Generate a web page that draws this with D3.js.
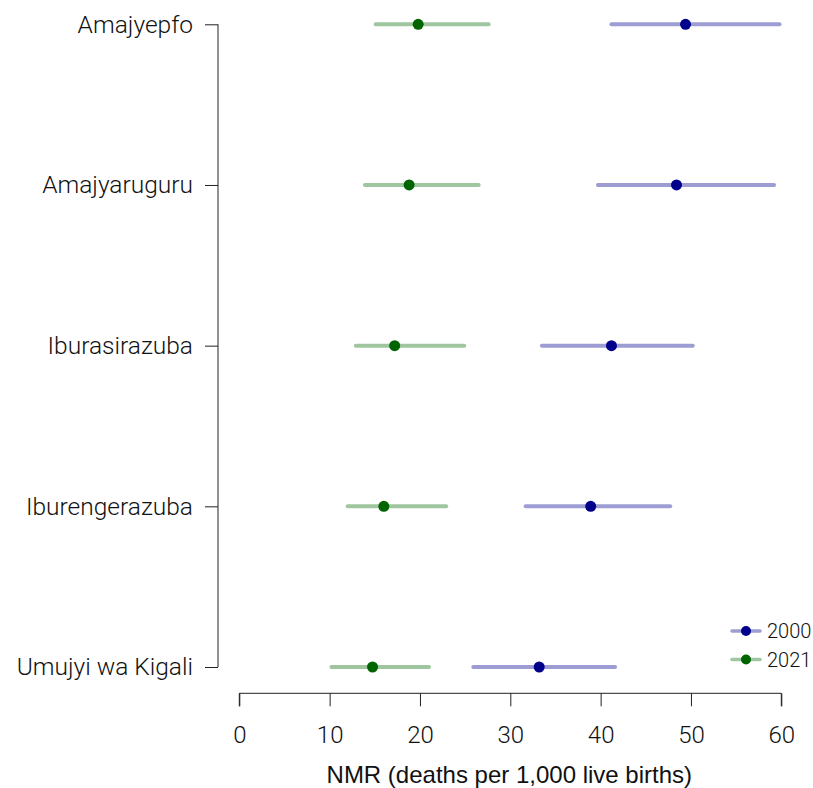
<!DOCTYPE html>
<html><head><meta charset="utf-8">
<script src="https://cdn.jsdelivr.net/npm/d3@7"></script>
<style>body{margin:0;background:#fff}</style>
</head><body>
<svg id="chart" width="813" height="788"></svg>
<script>
const regions = ["Amajyepfo","Amajyaruguru","Iburasirazuba","Iburengerazuba","Umujyi wa Kigali"];
const nmr2000 = [49.4, 48.4, 41.2, 38.9, 33.2];
const low2000 = [41.2, 39.7, 33.5, 31.7, 25.9];
const high2000 = [59.8, 59.2, 50.2, 47.7, 41.6];
const nmr2021 = [19.8, 18.8, 17.2, 16.0, 14.75];
const low2021 = [15.1, 13.9, 12.9, 12.0, 10.2];
const high2021 = [27.6, 26.5, 24.9, 22.9, 21.0];
const xTicks = [0,10,20,30,40,50,60];
const seriesNames = ["2000","2021"];

const svg = d3.select("#chart");
const x = d3.scaleLinear().domain([0,60]).range([239.3,781.3]);
const y = d3.scalePoint().domain(regions).range([24.3,667]);

const lightFont = "Roboto, 'Liberation Sans', sans-serif";
const series = [
  {name:"2000", mid:nmr2000, lo:low2000, hi:high2000, line:"#9d9dd3", dot:"#00008b"},
  {name:"2021", mid:nmr2021, lo:low2021, hi:high2021, line:"#9fc69f", dot:"#006400"}
];

// y axis
const yAxis = svg.append("g").attr("transform","translate(218,0)")
  .call(d3.axisLeft(y).tickSize(13).tickPadding(12));
yAxis.select(".domain").attr("d", `M0,${y(regions[0])}V${y(regions[regions.length-1])}`).attr("stroke","#222");
yAxis.selectAll(".tick line").attr("stroke","#222");
yAxis.selectAll(".tick text").attr("font-family",lightFont).attr("font-weight",300)
  .attr("font-size",24.5).attr("fill","#111");

// x axis
const xAxis = svg.append("g").attr("transform","translate(0,693.3)")
  .call(d3.axisBottom(x).tickValues(xTicks).tickSize(13).tickPadding(20).tickFormat(d3.format("d")));
xAxis.select(".domain").attr("d", `M${x(0)},13V0H${x(60)}V13`).attr("stroke","#222");
xAxis.selectAll(".tick line").attr("stroke","#222");
xAxis.selectAll(".tick text").attr("font-family",lightFont).attr("font-weight",300)
  .attr("font-size",24).attr("fill","#111");

svg.append("text").attr("x",(x(0)+x(60))/2 - 1).attr("y",783)
  .attr("text-anchor","middle").attr("font-family","'Liberation Sans', Arial, sans-serif")
  .attr("font-size",24).attr("fill","#111").text("NMR (deaths per 1,000 live births)");

// error bars and points
series.forEach(s => {
  const g = svg.append("g");
  g.selectAll("line").data(regions).join("line")
    .attr("x1",(d,i)=>x(s.lo[i])).attr("x2",(d,i)=>x(s.hi[i]))
    .attr("y1",d=>y(d)).attr("y2",d=>y(d))
    .attr("stroke",s.line).attr("stroke-width",4).attr("stroke-linecap","round");
  g.selectAll("circle").data(regions).join("circle")
    .attr("cx",(d,i)=>x(s.mid[i])).attr("cy",d=>y(d)).attr("r",5.5).attr("fill",s.dot);
});

// legend
const leg = svg.append("g");
series.forEach((s,i) => {
  const ly = 631 + i*28.5;
  leg.append("line").attr("x1",732).attr("x2",760).attr("y1",ly).attr("y2",ly)
    .attr("stroke",s.line).attr("stroke-width",3.5).attr("stroke-linecap","round");
  leg.append("circle").attr("cx",746).attr("cy",ly).attr("r",5).attr("fill",s.dot);
  leg.append("text").attr("x",767).attr("y",ly).attr("dy","0.35em")
    .attr("font-family",lightFont).attr("font-weight",300).attr("font-size",20)
    .attr("fill","#111").text(seriesNames[i]);
});
</script>
</body></html>
